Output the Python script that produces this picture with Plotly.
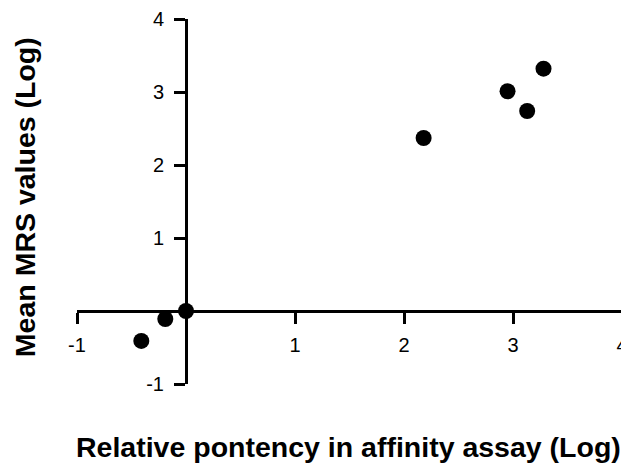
import plotly.graph_objects as go

x_vals = [-0.41, -0.19, 0.0, 2.18, 2.95, 3.13, 3.28]
y_vals = [-0.41, -0.11, 0.0, 2.37, 3.01, 2.74, 3.32]
tick_vals = [-1, 1, 2, 3, 4]
tick_text = ["-1", "1", "2", "3", "4"]
x_title = "Relative pontency in affinity assay (Log)"
y_title = "Mean MRS values (Log)"

FONT = "Liberation Sans, Arial, sans-serif"

fig = go.Figure()
fig.add_trace(go.Scatter(
    x=x_vals, y=y_vals, mode="markers",
    marker=dict(size=16, color="black", symbol="circle"),
    cliponaxis=False, showlegend=False,
))

axis_common = dict(
    range=[-1, 4], showgrid=False, zeroline=False,
    showline=True, linecolor="black", linewidth=3,
    ticks="outside", ticklen=11, tickwidth=3, tickcolor="black",
    tickvals=tick_vals, ticktext=tick_text,
    tickfont=dict(family=FONT, size=20, color="black"),
    anchor="free", position=0.2, automargin=False,
    ticklabeloverflow="allow",
)

# The page body adds an 8px offset; margins compensate so the plot lands where the reference has it.
fig.update_layout(
    width=629, height=467,
    margin=dict(l=69, r=15, t=11, b=91),
    plot_bgcolor="white", paper_bgcolor="white",
    xaxis=dict(**axis_common, ticklabelstandoff=4),
    yaxis=dict(**axis_common, ticklabelstandoff=6),
    annotations=[
        dict(text="<b>" + x_title + "</b>", xref="paper", yref="paper",
             x=0.499, y=-0.172, xanchor="center", yanchor="middle", showarrow=False,
             font=dict(family=FONT, size=28.5, color="black")),
        dict(text="<b>" + y_title + "</b>", xref="paper", yref="paper",
             x=-0.0954, y=0.512, xanchor="center", yanchor="middle", showarrow=False,
             textangle=-90,
             font=dict(family=FONT, size=28.5, color="black")),
    ],
)

fig.write_html("out.html")
